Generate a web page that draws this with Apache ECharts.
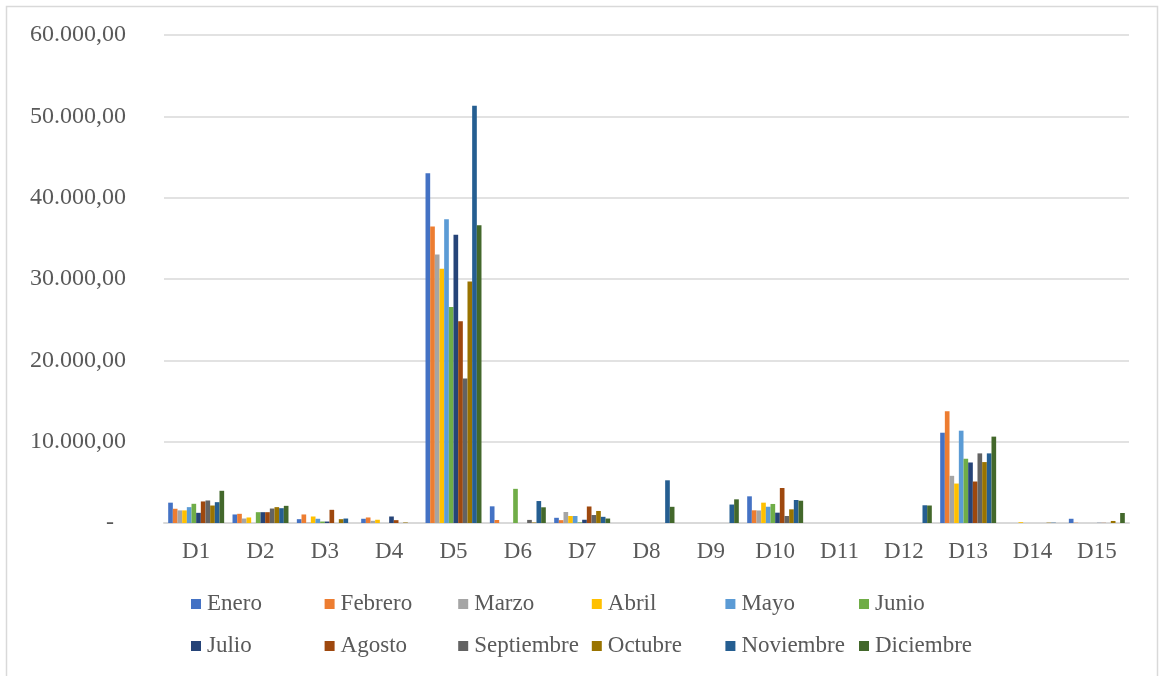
<!DOCTYPE html>
<html>
<head>
<meta charset="utf-8">
<script src="https://cdn.jsdelivr.net/npm/echarts@6/dist/echarts.min.js"></script>
<style>
  html, body { margin: 0; padding: 0; background: #ffffff; }
  #chart { width: 1161px; height: 676px; }
</style>
</head>
<body>
<div id="chart"></div>
<script>
// Categories (districts) and monthly values
const categories = ['D1','D2','D3','D4','D5','D6','D7','D8','D9','D10','D11','D12','D13','D14','D15'];
const months = ['Enero','Febrero','Marzo','Abril','Mayo','Junio','Julio','Agosto','Septiembre','Octubre','Noviembre','Diciembre'];

const enero      = [2500, 1050,  470,  520, 43000, 2050,  640,    0,    0, 3280, 0,    0, 11100,    0,  520];
const febrero    = [1750, 1130, 1050,  680, 36450,  370,  350,    0,    0, 1560, 0,    0, 13740,    0,   30];
const marzo      = [1550,  550,   50,  270, 33000,    0, 1350,    0,    0, 1540, 0,    0,  5800,    0,    0];
const abril      = [1550,  680,  800,  400, 31250,    0,  860,    0,    0, 2500, 0,    0,  4850,  100,    0];
const mayo       = [1950,    0,  520,    0, 37350,    0,  860,    0,    0, 2000, 0,    0, 11350,    0,    0];
const junio      = [2360, 1330,  180,    0, 26550, 4200,   80,    0,    0, 2340, 0,    0,  7900,    0,    0];
const julio      = [1250, 1330,  180,  800, 35450,    0,  400,    0,    0, 1270, 0,    0,  7440,    0,   20];
const agosto     = [2650, 1330, 1620,  350, 24800,    0, 2030,    0,    0, 4300, 0,    0,  5100,    0,   20];
const septiembre = [2770, 1780,    0,    0, 17770,  380,  980,    0,    0,  860, 0,    0,  8560,    0,    0];
const octubre    = [2150, 1950,  470,   60, 29700,   60, 1480,    0,    0, 1680, 0,    0,  7490,   40,  250];
const noviembre  = [2560, 1820,  550,    0, 51300, 2700,  760, 5250, 2270, 2830, 0, 2180,  8560,   40,    0];
const diciembre  = [3960, 2110,    0,    0, 36600, 1930,  550, 1990, 2910, 2740, 0, 2150, 10620,    0, 1230];

const seriesValues = [enero, febrero, marzo, abril, mayo, junio, julio, agosto, septiembre, octubre, noviembre, diciembre];
const colors = ['#4472C4','#ED7D31','#A5A5A5','#FFC000','#5B9BD5','#70AD47','#264478','#9E480E','#636363','#997300','#255E91','#43682B'];

const FONT = "'Liberation Serif', 'Times New Roman', serif";
const TEXT = '#595959';

// Number format with dot thousands and comma decimals; zero shown as a dash
function fmt(v) {
  if (v === 0) return '-  ';
  const s = Math.round(v).toString().replace(/\B(?=(\d{3})+(?!\d))/g, '.');
  return s + ',00';
}

const series = months.map((m, i) => ({
  name: m,
  type: 'bar',
  data: seriesValues[i],
  barGap: '0%',
  barCategoryGap: '13%',
  itemStyle: { color: colors[i] },
  emphasis: { disabled: true },
  animation: false
}));

// Legend laid out as a 6 x 2 grid
const legends = months.map((m, i) => ({
  data: [m],
  left: 191 + (i % 6) * 133.6,
  top: i < 6 ? 587 : 629,
  padding: [5, 0, 5, 0],
  icon: 'rect',
  itemWidth: 10,
  itemHeight: 10,
  itemGap: 0,
  selectedMode: false,
  textStyle: { fontFamily: FONT, fontSize: 23, color: TEXT, lineHeight: 24, padding: [0, 0, 0, 1] }
}));

const chart = echarts.init(document.getElementById('chart'), null, { renderer: 'canvas' });
chart.setOption({
  backgroundColor: '#ffffff',
  animation: false,
  color: colors,
  graphic: [{
    type: 'rect',
    shape: { x: 6.5, y: 6.5, width: 1151, height: 700 },
    style: { fill: 'none', stroke: '#d9d9d9', lineWidth: 1.5 },
    silent: true
  }],
  grid: { left: 164, right: 32, top: 35, bottom: 153, containLabel: false },
  legend: legends,
  xAxis: {
    type: 'category',
    data: categories,
    axisLine: { lineStyle: { color: '#d9d9d9', width: 2 } },
    axisTick: { show: false },
    axisLabel: { fontFamily: FONT, fontSize: 23, color: TEXT, margin: 17 }
  },
  yAxis: {
    type: 'value',
    min: 0,
    max: 60000,
    interval: 10000,
    axisLine: { show: false },
    axisTick: { show: false },
    splitLine: { lineStyle: { color: '#d9d9d9', width: 1.5 } },
    axisLabel: { fontFamily: FONT, fontSize: 24, color: TEXT, margin: 38, formatter: fmt }
  },
  series: series
});
</script>
</body>
</html>
